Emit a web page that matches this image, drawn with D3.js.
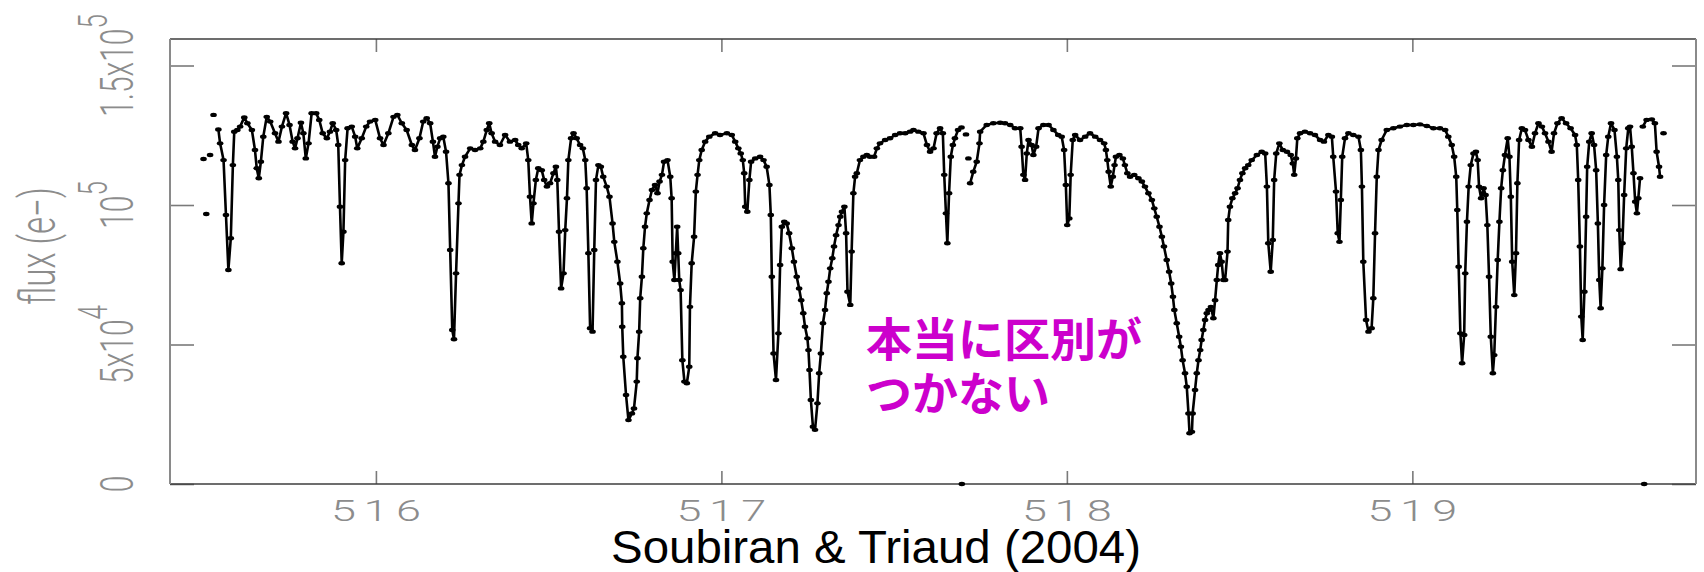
<!DOCTYPE html>
<html>
<head>
<meta charset="utf-8">
<script src="https://cdn.jsdelivr.net/npm/d3@7"></script>
<style>
  body { margin: 0; background: #fff; }
  svg { display: block; }
</style>
</head>
<body>
<div id="chart"></div>
<script>
// spectrum, wavelength in nm, flux in e-; null = break in the line
const wavelength = [
  515.501, null, 515.509, null, 515.520, null, 515.530, null,
  515.544, 515.549, 515.559, 515.566, 515.573, 515.580, 515.586, 515.590, 515.599, 515.607, 515.619, 515.628,
  515.641, 515.650, 515.655, 515.661, 515.667, 515.674, 515.684, 515.694, 515.708, 515.718, 515.728, 515.740,
  515.750, 515.759, 515.766, 515.773, 515.783, 515.790, 515.797, 515.805, 515.814, 515.827, 515.836, 515.846,
  515.858, 515.867, 515.875, 515.885, 515.891, 515.896, 515.901, 515.906, 515.911, 515.918, 515.930, 515.940,
  515.946, 515.959, 515.972, 515.983, 515.998, 516.012, 516.022, 516.036, 516.051, 516.062, 516.075, 516.089,
  516.104, 516.113, 516.126, 516.137, 516.147, 516.157, 516.165, 516.171, 516.178, 516.186, 516.195, 516.203,
  516.210, 516.215, 516.221, 516.226, 516.232, 516.239, 516.242, 516.249, 516.258, 516.273, 516.287, 516.302,
  516.311, 516.321, 516.328, 516.335, 516.345, 516.359, 516.374, 516.388, 516.403, 516.412, 516.422, 516.435,
  516.441, 516.446, 516.451, 516.456, 516.463, 516.470, 516.480, 516.487, 516.495, 516.504, 516.514, 516.521,
  516.525, 516.530, 516.536, 516.543, 516.548, 516.553, 516.557, 516.565, 516.572, 516.581, 516.591, 516.599,
  516.606, 516.610, 516.615, 516.620, 516.627, 516.632, 516.637, 516.644, 516.651, 516.658, 516.668, 516.676,
  516.685, 516.690, 516.699, 516.707, 516.712, 516.713, 516.716, 516.724, 516.731, 516.741, 516.747, 516.755,
  516.757, 516.762, 516.765, 516.770, 516.774, 516.779, 516.784, 516.792, 516.799, 516.808, 516.815, 516.821,
  516.828, 516.834, 516.844, 516.852, 516.856, 516.859, 516.864, 516.868, 516.872, 516.875, 516.878, 516.882,
  516.887, 516.893, 516.900, 516.907, 516.909, 516.914, 516.921, 516.926, 516.931, 516.936, 516.943, 516.953,
  516.965, 516.982, 516.996, 517.016, 517.030, 517.040, 517.049, 517.056, 517.062, 517.066, 517.069, 517.075,
  517.081, 517.086, 517.098, 517.112, 517.122, 517.131, 517.139, 517.143, 517.146, 517.151, 517.158, 517.165,
  517.170, 517.175, 517.182, 517.189, 517.196, 517.204, 517.210, 517.218, 517.225, 517.231, 517.237, 517.242,
  517.249, 517.252, 517.255, 517.259, 517.265, 517.271, 517.278, 517.283, 517.288, 517.294, 517.300, 517.305,
  517.310, 517.315, 517.321, 517.326, 517.332, 517.339, 517.344, 517.349, 517.356, 517.361, 517.365, 517.373,
  517.377, 517.382, 517.387, 517.392, 517.401, 517.411, 517.421, 517.430, 517.442, 517.450, 517.459, 517.474,
  517.488, 517.503, 517.517, 517.532, 517.546, 517.556, 517.570, 517.585, 517.595, 517.604, 517.614, 517.623,
  517.633, 517.641, 517.645, 517.650, 517.654, 517.659, 517.664, 517.670, 517.676, 517.685,
  null, 517.695, null, 517.708, null, 517.715, null,
  517.720, 517.729, 517.739, 517.747, 517.749, 517.768, 517.787, 517.807, 517.821, 517.836, 517.850, 517.865,
  517.869, 517.874, 517.879, 517.884, 517.889, 517.898, 517.903, 517.911, 517.918, 517.932, 517.947, 517.961,
  517.975, 517.985, 517.992, 517.997, 518.001, 518.007, 518.011, 518.017, 518.024, 518.038, 518.053, 518.067,
  518.082, 518.096, 518.108, 518.113, 518.117, 518.121, 518.127, 518.133, 518.138, 518.142, 518.152, 518.162,
  518.168, 518.175, 518.183, 518.195, 518.207, 518.217, 518.226, 518.236, 518.246, 518.253, 518.260, 518.268,
  518.275, 518.281, 518.289, 518.296, 518.302, 518.307, 518.311, 518.318, 518.325, 518.330, 518.335, 518.342,
  518.347, 518.352, 518.355, 518.362, 518.364, 518.371, 518.376, 518.381, 518.386, 518.390, 518.395, 518.400,
  518.405, 518.410, 518.417, 518.424, 518.429, 518.434, 518.438, 518.443, 518.448, 518.453, 518.458, 518.465,
  518.467, 518.472, 518.479, 518.487, 518.494, 518.501, 518.508, 518.516, 518.525, 518.535, 518.550, 518.564,
  518.574, 518.579, 518.583, 518.590, 518.596, 518.600, 518.606, 518.615, 518.625, 518.637, 518.648, 518.654,
  518.658, 518.663, 518.667, 518.675, 518.689, 518.704, 518.718, 518.733, 518.744, 518.757, 518.767, 518.771,
  518.779, 518.784, 518.789, 518.793, 518.797, 518.805, 518.815, 518.829, 518.844, 518.851, 518.854, 518.858,
  518.866, 518.873, 518.882, 518.887, 518.892, 518.897, 518.902, 518.911, 518.926, 518.945, 518.964, 518.984,
  519.003, 519.022, 519.042, 519.061, 519.080, 519.095, 519.104, 519.114, 519.121, 519.127, 519.130, 519.134,
  519.139, 519.144, 519.150, 519.153, 519.158, 519.163, 519.169, 519.177, 519.184, 519.189, 519.193, 519.199,
  519.206, 519.212, 519.217, 519.222, 519.227, 519.233, 519.237, 519.242, 519.247, 519.252, 519.257, 519.262,
  519.268, 519.276, 519.281, 519.285, 519.289, 519.295, 519.300, 519.304, 519.309, 519.317, 519.326, 519.336,
  519.346, 519.355, 519.365, 519.375, 519.384, 519.394, 519.403, 519.410, 519.420, 519.432, 519.445, 519.458,
  519.471, 519.476, 519.480, 519.485, 519.489, 519.493, 519.498, 519.503, 519.506, 519.512, 519.519, 519.526,
  519.532, 519.537, 519.541, 519.545, 519.550, 519.555, 519.561, 519.567, 519.575, 519.585, 519.592, 519.596,
  519.599, 519.603, 519.608, 519.613, 519.619, 519.625, 519.630, 519.635, 519.640, 519.645, 519.650, 519.654,
  519.659, null,
  519.667, 519.678, 519.693, 519.702, 519.707, 519.714, 519.717, null,
  519.727
];

const flux = [
  116500, null, 96800, null, 117900, null, 132300, null,
  127100, 122100, 116100, 96400, 76700, 88100, 114300, 126300, 126900, 128100, 131400, 129300,
  126900, 119700, 113200, 109600, 115500, 124500, 131600, 129900, 125700, 122700, 128100, 132900,
  128700, 122700, 120300, 123900, 129500, 125700, 116700, 122100, 132900, 132900, 130500, 125700,
  123900, 126300, 129300, 126900, 121500, 99400, 79100, 90400, 116100, 127500, 128100, 124500,
  120300, 123900, 128100, 129900, 130500, 123900, 121500, 125700, 131600, 132300, 129300, 126900,
  121500, 119700, 123900, 129900, 131100, 129300, 122700, 117300, 120900, 123900, 124500, 119100,
  107800, 83900, 55200, 51900, 75500, 100600, 110800, 114300, 117300, 120300, 119700, 120300,
  122700, 126900, 129300, 125700, 122700, 121500, 125100, 122700, 123300, 121500, 120300, 122100,
  116100, 103000, 93400, 100600, 109000, 113200, 112500, 109000, 106600, 107800, 111400, 113700,
  109000, 90400, 70100, 75500, 91000, 102400, 116100, 123900, 125700, 123900, 121500, 120300,
  116100, 106000, 82700, 55800, 54600, 83900, 109000, 114300, 113700, 110100, 106600, 103000,
  93400, 86800, 79700, 71900, 64800, 56400, 45600, 31900, 22900, 25300, 27100, 36700,
  45100, 54600, 66600, 74300, 84500, 92200, 97000, 101800, 105400, 107200, 104200, 108400,
  110800, 115500, 116100, 110100, 102400, 79700, 73100, 82700, 92200, 82700, 73100, 69500,
  44400, 36700, 36100, 42000, 63500, 79100, 88600, 104800, 110800, 116100, 119700, 122700,
  124500, 125700, 125100, 125700, 125100, 122700, 120300, 118500, 116100, 111400, 99400, 97600,
  109000, 115500, 116700, 117300, 116100, 113700, 107200, 96400, 74300, 46800, 37300, 54000,
  78500, 92200, 94000, 93400, 89900, 84500, 79700, 74300, 70100, 65900, 61200, 56400,
  52200, 48000, 40900, 30100, 20500, 19400, 28900, 39700, 46800, 57600, 62400, 68400,
  72500, 77300, 80900, 85100, 89200, 92800, 95800, 97600, 99400, 89900, 68900, 64200,
  83300, 104200, 110100, 111400, 116100, 117300, 117900, 117300, 117300, 120300, 122100, 123300,
  123900, 125100, 125700, 125700, 126300, 126900, 126300, 125700, 121500, 119100, 120300, 125700,
  127500, 125700, 110800, 97000, 86300, 104200, 117300, 121500, 123900, 126900,
  null, 127800, null, 125300, null, 116700, null,
  107800, 111900, 115500, 122100, 126300, 128700, 129300, 129500, 129300, 128700, 127500, 127500,
  120900, 110800, 109000, 118500, 123300, 121500, 117900, 120900, 127500, 128700, 128700, 126900,
  125100, 124500, 119700, 107200, 92800, 95200, 110800, 123300, 125100, 123300, 124500, 125700,
  124500, 123300, 122100, 119700, 116100, 111900, 106600, 110100, 114300, 117300, 117900, 116700,
  114300, 111400, 110100, 110800, 109600, 108400, 106600, 104200, 101800, 98800, 95800, 92200,
  88600, 85100, 80300, 76100, 71900, 67100, 62400, 57600, 52800, 49200, 44400, 39700,
  34900, 25300, 18200, 18700, 25300, 33700, 39700, 44400, 48000, 51600, 55200, 58800,
  61200, 62400, 63500, 59400, 65900, 73100, 78500, 82700, 79700, 73100, 73100, 83300,
  94600, 99400, 102400, 104200, 106000, 109000, 111400, 113200, 114300, 116100, 117900, 119100,
  118500, 106600, 86300, 76100, 87500, 109000, 118500, 122100, 119700, 119100, 117900, 114900,
  110800, 116700, 123900, 125700, 126300, 125700, 125100, 123300, 122700, 125100, 124500, 117300,
  104800, 89900, 86800, 101800, 117300, 123900, 125700, 125100, 124500, 119700, 106600, 79700,
  58800, 54600, 55800, 66600, 89900, 110100, 119700, 123300, 126900, 127500, 128100, 128700,
  128700, 128900, 128300, 127500, 127500, 126900, 124500, 121500, 117300, 110100, 98200, 77900,
  54000, 43300, 53400, 75500, 94000, 106600, 114300, 118500, 119100, 116100, 106600, 102400,
  106000, 103600, 92800, 74300, 52800, 39700, 46200, 63500, 80300, 94000, 106000, 112500,
  117900, 123900, 117300, 103000, 79700, 67700, 82700, 107800, 123300, 127500, 126900, 123300,
  120900, 125700, 129300, 128100, 125700, 122700, 119100, 125700, 129300, 131100, 129300, 127500,
  125100, 121500, 109000, 85100, 60000, 51600, 68900, 95800, 113700, 122700, 125700, 121500,
  112500, 93400, 73100, 63000, 77300, 100000, 117900, 124500, 129300, 126900, 117300, 109000,
  91000, 77000, 86300, 103600, 120300, 127500, 128100, 120900, 111400, 101200, 97000, 102400,
  109600, null,
  128100, 130500, 130700, 129300, 119100, 113700, 110100, null,
  125700
];

// dropped pixels lying on the zero line
const zeroWavelength = [517.696, 519.671];
const zeroFlux = [0, 0];

const xTicks = [516, 517, 518, 519];
const yTicks = [0, 50000, 100000, 150000];
const yTickBase = ['0', '5x10', '10', '1.5x10'];
const yTickExp = ['', '4', '5', '5'];
const yTitle = 'flux (e\u2212)';
const credit = 'Soubiran & Triaud (2004)';
const note = ['本当に区別が', 'つかない'];

const width = 1704;
const height = 572;
const margin = {top: 39, right: 8, bottom: 88, left: 170};

const svg = d3.select('#chart')
    .append('svg')
    .attr('width', width)
    .attr('height', height);

const x = d3.scaleLinear()
    .domain([515.404, 519.821])
    .range([margin.left, width - margin.right]);
const y = d3.scaleLinear()
    .domain([0, 159500])
    .range([height - margin.bottom, margin.top]);

const x0 = margin.left;
const x1 = width - margin.right;
const y0 = height - margin.bottom;
const y1 = margin.top;

// inward ticks on all four sides, labels drawn by hand below
const tickStyle = (g) => {
  g.select('.domain').remove();
  g.selectAll('.tick line').attr('stroke', '#7a7a7a').attr('stroke-width', 1.6);
  g.selectAll('.tick text').remove();
};

svg.append('g')
    .attr('transform', `translate(0,${y0})`)
    .call(d3.axisBottom(x).tickValues(xTicks).tickSize(-13))
    .call(tickStyle);
svg.append('g')
    .attr('transform', `translate(0,${y1})`)
    .call(d3.axisTop(x).tickValues(xTicks).tickSize(-13))
    .call(tickStyle);
svg.append('g')
    .attr('transform', `translate(${x0},0)`)
    .call(d3.axisLeft(y).tickValues(yTicks).tickSize(-24))
    .call(tickStyle);
svg.append('g')
    .attr('transform', `translate(${x1},0)`)
    .call(d3.axisRight(y).tickValues(yTicks).tickSize(-24))
    .call(tickStyle);

// frame
svg.append('line').attr('x1', x0).attr('x2', x1).attr('y1', y1).attr('y2', y1)
    .attr('stroke', '#3c3c3c').attr('stroke-width', 1.6);
svg.append('line').attr('x1', x0).attr('x2', x1).attr('y1', y0).attr('y2', y0)
    .attr('stroke', '#3c3c3c').attr('stroke-width', 1.6);
svg.append('line').attr('x1', x0).attr('x2', x0).attr('y1', y1).attr('y2', y0)
    .attr('stroke', '#8a8a8a').attr('stroke-width', 2);
svg.append('line').attr('x1', x1).attr('x2', x1).attr('y1', y1).attr('y2', y0)
    .attr('stroke', '#8a8a8a').attr('stroke-width', 2);

// tick labels (stretched horizontally like the source image)
const labelFont = 'Roboto, "Liberation Sans", sans-serif';
const labelFill = '#8c8c8c';

xTicks.forEach((v) => {
  svg.append('g')
      .attr('transform', `translate(${x(v)},521) scale(1.5,1)`)
      .append('text')
      .attr('text-anchor', 'middle')
      .attr('dx', 2.5)
      .attr('font-family', labelFont)
      .attr('font-weight', 300)
      .attr('font-size', 30)
      .attr('letter-spacing', 5)
      .attr('fill', labelFill)
      .text(d3.format('d')(v));
});

yTicks.forEach((v, i) => {
  const t = svg.append('g')
      .attr('transform', `translate(133,${y(v)}) scale(1.55,1) rotate(-90)`)
      .append('text')
      .attr('text-anchor', 'middle')
      .attr('font-family', labelFont)
      .attr('font-weight', 300)
      .attr('font-size', 30)
      .attr('fill', labelFill);
  t.append('tspan').text(yTickBase[i]);
  if (yTickExp[i]) {
    t.append('tspan').attr('dy', -17).attr('font-size', 26).text(yTickExp[i]);
  }
});

svg.append('g')
    .attr('transform', `translate(55,246) scale(1.5,1) rotate(-90)`)
    .append('text')
    .attr('text-anchor', 'middle')
    .attr('font-family', labelFont)
    .attr('font-weight', 300)
    .attr('font-size', 33)
    .attr('fill', labelFill)
    .text(yTitle);

// spectrum
const points = wavelength.map((w, i) => ({w, f: flux[i]}));

const line = d3.line()
    .defined((d) => d.w != null && d.f != null)
    .x((d) => x(d.w))
    .y((d) => y(d.f));

svg.append('path')
    .datum(points)
    .attr('fill', 'none')
    .attr('stroke', '#000')
    .attr('stroke-width', 2.6)
    .attr('stroke-linejoin', 'round')
    .attr('d', line);

const zeros = zeroWavelength.map((w, i) => ({w, f: zeroFlux[i]}));

svg.append('g')
    .selectAll('ellipse')
    .data(points.filter((d) => d.w != null && d.f != null).concat(zeros))
    .join('ellipse')
    .attr('cx', (d) => x(d.w))
    .attr('cy', (d) => y(d.f))
    .attr('rx', 3.3)
    .attr('ry', 2.2)
    .attr('fill', '#000');

// annotation
const noteText = svg.append('text')
    .attr('font-family', '"Noto Sans CJK JP", sans-serif')
    .attr('font-weight', 700)
    .attr('font-size', 46)
    .attr('fill', '#cc00cc');
note.forEach((s, i) => {
  noteText.append('tspan').attr('x', 866).attr('y', 356 + i * 54).text(s);
});

// source credit
svg.append('text')
    .attr('x', 611)
    .attr('y', 563)
    .attr('font-family', '"Liberation Sans", Arial, sans-serif')
    .attr('font-size', 47)
    .attr('textLength', 530)
    .attr('lengthAdjust', 'spacingAndGlyphs')
    .attr('fill', '#000')
    .text(credit);
</script>
</body>
</html>
